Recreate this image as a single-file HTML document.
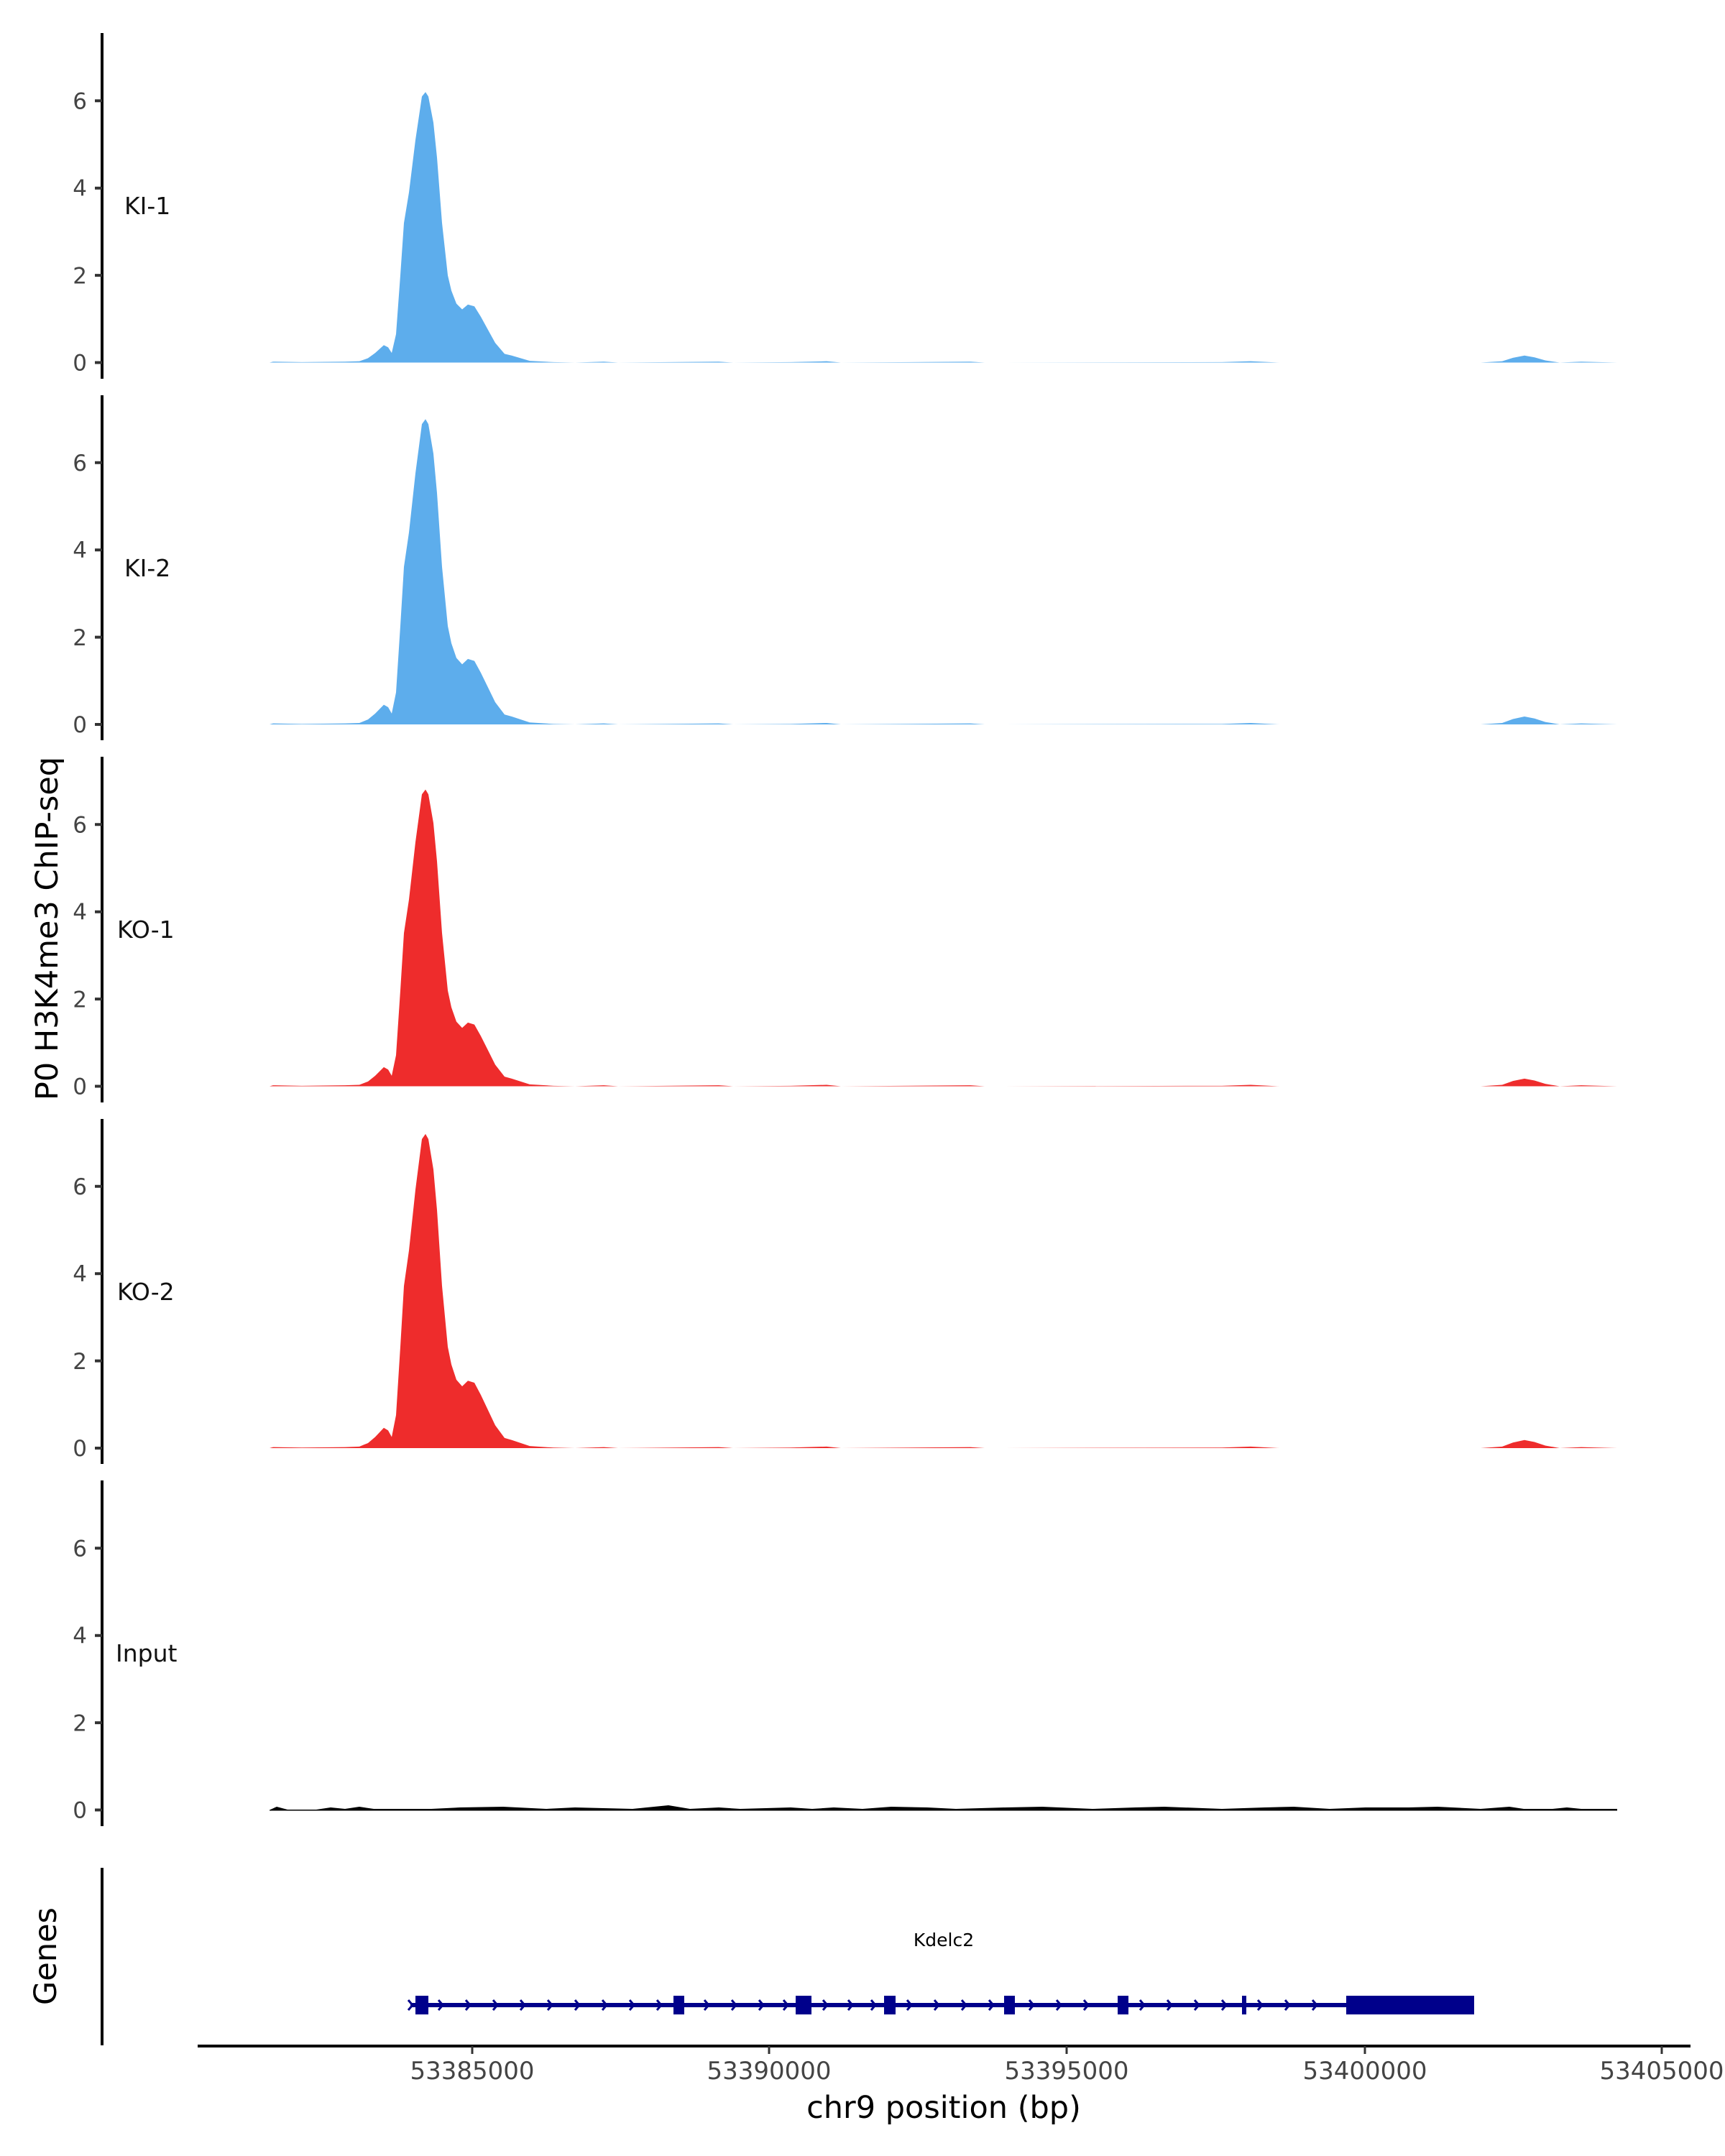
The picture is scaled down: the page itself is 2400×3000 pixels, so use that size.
<!DOCTYPE html>
<html><head><meta charset="utf-8"><style>
html,body{margin:0;padding:0;background:#fff;}
svg{display:block;}
text{font-family:"DejaVu Sans","Liberation Sans",sans-serif;}
</style></head><body>
<svg width="2400" height="3000" viewBox="0 0 2400 3000" xmlns="http://www.w3.org/2000/svg">
<defs>
<path id="pk" d="M375,0 L380,0.02 L420,0.01 L480,0.02 L500,0.03 L512,0.1 L522,0.22 L534,0.4 L540,0.35 L545,0.22 L551,0.65 L557,2 L562,3.2 L569,3.9 L578,5.1 L587,6.1 L592,6.2 L596,6.1 L603,5.5 L608,4.7 L615,3.2 L623,2.0 L628,1.65 L635,1.35 L643,1.22 L651,1.33 L660,1.29 L669,1.05 L679,0.75 L689,0.45 L702,0.2 L712,0.16 L737,0.04 L770,0.01 L800,0 L840,0.02 L860,0 L1000,0.02 L1020,0 L1100,0.01 L1150,0.03 L1170,0 L1350,0.02 L1370,0 L1700,0.01 L1740,0.03 L1780,0 L2060,0 L2090,0.03 L2105,0.11 L2121,0.16 L2135,0.12 L2150,0.05 L2170,0 L2200,0.02 L2250,0 Z"/>
</defs>
<g stroke="#000" stroke-width="4">
<line x1="142" y1="46" x2="142" y2="527"/>
<line x1="142" y1="550" x2="142" y2="1030"/>
<line x1="142" y1="1053" x2="142" y2="1534"/>
<line x1="142" y1="1557" x2="142" y2="2037"/>
<line x1="142" y1="2060" x2="142" y2="2541"/>
<line x1="142" y1="2599" x2="142" y2="2846"/>
</g>
<g font-size="31" fill="#444" text-anchor="end">
<g transform="translate(0,504.5)">
<path d="M132,0H142M132,-121.4H142M132,-242.8H142M132,-364.2H142" stroke="#333" stroke-width="4"/>
<text x="121" y="11">0</text><text x="121" y="-110">2</text><text x="121" y="-232">4</text><text x="121" y="-353">6</text>
</g>
<g transform="translate(0,1008)">
<path d="M132,0H142M132,-121.4H142M132,-242.8H142M132,-364.2H142" stroke="#333" stroke-width="4"/>
<text x="121" y="11">0</text><text x="121" y="-110">2</text><text x="121" y="-232">4</text><text x="121" y="-353">6</text>
</g>
<g transform="translate(0,1511.5)">
<path d="M132,0H142M132,-121.4H142M132,-242.8H142M132,-364.2H142" stroke="#333" stroke-width="4"/>
<text x="121" y="11">0</text><text x="121" y="-110">2</text><text x="121" y="-232">4</text><text x="121" y="-353">6</text>
</g>
<g transform="translate(0,2015)">
<path d="M132,0H142M132,-121.4H142M132,-242.8H142M132,-364.2H142" stroke="#333" stroke-width="4"/>
<text x="121" y="11">0</text><text x="121" y="-110">2</text><text x="121" y="-232">4</text><text x="121" y="-353">6</text>
</g>
<g transform="translate(0,2518.5)">
<path d="M132,0H142M132,-121.4H142M132,-242.8H142M132,-364.2H142" stroke="#333" stroke-width="4"/>
<text x="121" y="11">0</text><text x="121" y="-110">2</text><text x="121" y="-232">4</text><text x="121" y="-353">6</text>
</g>
</g>
<g font-size="33" fill="#111">
<text x="173" y="298">KI-1</text>
<text x="173" y="802">KI-2</text>
<text x="163" y="1305">KO-1</text>
<text x="163" y="1809">KO-2</text>
<text x="161" y="2312">Input</text>
</g>
<g transform="translate(0,504.5) scale(1,-60.7)"><use href="#pk" fill="#5DADEC"/></g>
<g transform="translate(0,1008) scale(1,-68.5)"><use href="#pk" fill="#5DADEC"/></g>
<g transform="translate(0,1511.5) scale(1,-66.6)"><use href="#pk" fill="#EE2C2C"/></g>
<g transform="translate(0,2015) scale(1,-70.5)"><use href="#pk" fill="#EE2C2C"/></g>
<path d="M375,2518.5 L385,2514 L400,2518 L440,2518 L460,2515 L480,2517 L500,2514 L520,2517 L600,2517 L640,2515 L700,2514 L760,2517 L800,2515 L880,2517 L900,2515 L930,2512 L960,2517 L1000,2515 L1030,2517 L1100,2515 L1130,2517 L1160,2515 L1200,2517 L1240,2514 L1290,2515 L1330,2517 L1400,2515 L1450,2514 L1520,2517 L1580,2515 L1620,2514 L1700,2517 L1760,2515 L1800,2514 L1850,2517 L1900,2515 L1960,2515 L2000,2514 L2060,2517 L2100,2514 L2120,2517 L2160,2517 L2180,2515 L2200,2517 L2250,2517 L2250,2519.5 L375,2519.5 Z" fill="#000"/>
<text x="1313" y="2708" font-size="25" fill="#000" text-anchor="middle">Kdelc2</text>
<g fill="#00008B" stroke="none">
<rect x="571" y="2787" width="1480" height="6"/>
<rect x="578" y="2777" width="18" height="26"/>
<rect x="937" y="2777" width="15" height="26"/>
<rect x="1107" y="2777" width="22" height="26"/>
<rect x="1230" y="2777" width="16" height="26"/>
<rect x="1397" y="2777" width="15" height="26"/>
<rect x="1555" y="2777" width="15" height="26"/>
<rect x="1728" y="2777" width="6" height="26"/>
<rect x="1873" y="2777" width="178" height="26"/>
</g>
<g fill="none" stroke="#00008B" stroke-width="3">
<path d="M568,2783l6,7l-6,7 M610,2783l6,7l-6,7 M648,2783l6,7l-6,7 M686,2783l6,7l-6,7 M724,2783l6,7l-6,7 M762,2783l6,7l-6,7 M800,2783l6,7l-6,7 M838,2783l6,7l-6,7 M876,2783l6,7l-6,7 M914,2783l6,7l-6,7 M980,2783l6,7l-6,7 M1018,2783l6,7l-6,7 M1056,2783l6,7l-6,7 M1090,2783l6,7l-6,7 M1145,2783l6,7l-6,7 M1180,2783l6,7l-6,7 M1212,2783l6,7l-6,7 M1262,2783l6,7l-6,7 M1300,2783l6,7l-6,7 M1338,2783l6,7l-6,7 M1376,2783l6,7l-6,7 M1432,2783l6,7l-6,7 M1470,2783l6,7l-6,7 M1508,2783l6,7l-6,7 M1586,2783l6,7l-6,7 M1624,2783l6,7l-6,7 M1662,2783l6,7l-6,7 M1700,2783l6,7l-6,7 M1750,2783l6,7l-6,7 M1788,2783l6,7l-6,7 M1826,2783l6,7l-6,7"/>
</g>
<line x1="275" y1="2847" x2="2352" y2="2847" stroke="#000" stroke-width="4"/>
<g stroke="#333" stroke-width="3">
<line x1="657" y1="2847" x2="657" y2="2858"/>
<line x1="1070" y1="2847" x2="1070" y2="2858"/>
<line x1="1484" y1="2847" x2="1484" y2="2858"/>
<line x1="1899" y1="2847" x2="1899" y2="2858"/>
<line x1="2312" y1="2847" x2="2312" y2="2858"/>
</g>
<g font-size="34" fill="#444" text-anchor="middle">
<text x="657" y="2893">53385000</text>
<text x="1070" y="2893">53390000</text>
<text x="1484" y="2893">53395000</text>
<text x="1899" y="2893">53400000</text>
<text x="2312" y="2893">53405000</text>
</g>
<text x="1313" y="2947" font-size="43" fill="#000" text-anchor="middle">chr9 position (bp)</text>
<text transform="translate(80,1292) rotate(-90)" font-size="43" fill="#000" text-anchor="middle">P0 H3K4me3 ChIP-seq</text>
<text transform="translate(78,2722) rotate(-90)" font-size="43" fill="#000" text-anchor="middle">Genes</text>
</svg>
</body></html>
